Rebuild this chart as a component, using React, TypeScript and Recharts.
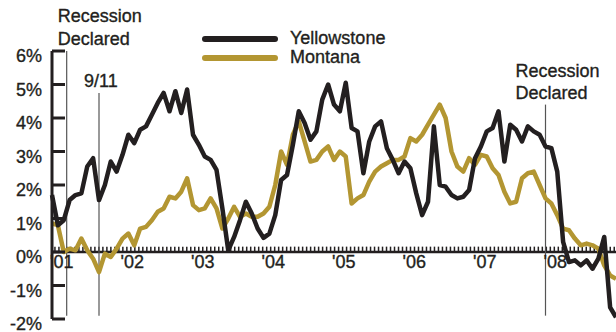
import { LineChart, Line, XAxis, YAxis, ReferenceLine, ReferenceDot, Legend } from "recharts";

const INK = "#231f20";
const GOLD = "#b39632";
const FONT = "'Liberation Sans', Arial, sans-serif";

// monthly job growth, Jan 2001 .. Jan 2009 (percent)
const yellowstone = [
  1.7, 0.8, 0.95, 1.55, 1.7, 1.75, 2.55, 2.8, 1.55, 2.0, 2.7, 2.4,
  2.9, 3.5, 3.25, 3.65, 3.75, 4.1, 4.45, 4.75, 4.2, 4.8, 4.15, 4.85,
  3.5, 3.2, 2.85, 2.75, 2.45, 1.3, 0.05, 0.45, 0.95, 1.5, 1.15, 0.7,
  0.42, 0.55, 1.1, 2.15, 2.3, 3.2, 4.2, 3.85, 3.35, 3.6, 4.55, 5.0,
  4.4, 4.2, 5.05, 3.7, 3.6, 2.35, 3.3, 3.75, 3.9, 3.1, 2.75, 2.35,
  2.7, 2.5, 1.75, 1.1, 1.5, 3.75, 2.0, 1.95, 1.7, 1.6, 1.65, 1.85,
  2.8, 3.15, 3.6, 3.7, 4.2, 2.7, 3.8, 3.65, 3.3, 3.75, 3.6, 3.5,
  3.15, 3.1, 2.4, 0.3, -0.3, -0.25, -0.4, -0.25, -0.5, -0.2, 0.45, -1.65,
  -1.95,
];

const montana = [
  0.85, 0.8, 0.0, 0.1, 0.05, 0.4, 0.05, -0.2, -0.6, -0.05, -0.15, 0.1,
  0.4, 0.55, 0.2, 0.7, 0.75, 0.95, 1.2, 1.3, 1.65, 1.6, 1.8, 2.2,
  1.4, 1.25, 1.3, 1.6, 1.3, 0.7, 1.0, 1.35, 1.05, 1.15, 1.05, 1.05,
  1.15, 1.35, 2.0, 3.0, 2.6, 3.5, 3.9, 3.3, 2.7, 2.75, 3.0, 3.15,
  2.75, 3.0, 2.85, 1.45, 1.6, 1.7, 2.1, 2.4, 2.55, 2.65, 2.75, 2.75,
  2.85, 3.4, 3.3, 3.5, 3.8, 4.1, 4.4, 4.0, 3.0, 2.55, 2.4, 2.8,
  2.6, 2.9, 2.85, 2.5, 2.3, 1.8, 1.45, 1.5, 2.2, 2.35, 2.4, 2.0,
  1.6, 1.45, 1.1, 0.7, 0.65, 0.4, 0.2, 0.25, 0.2, 0.1, -0.4, -0.7,
  -0.8,
];

const yearLabels = ["'01", "'02", "'03", "'04", "'05", "'06", "'07", "'08"];
const yTicks = [-2, -1, 0, 1, 2, 3, 4, 5, 6];
const seriesNames = ["Yellowstone", "Montana"];

const data = yellowstone.map((v, i) => ({ month: i, Yellowstone: v, Montana: montana[i] }));

// small comb marks along the zero line
const combTicks = Array.from({ length: 141 }, (_, k) => 0.5 + k * 0.68);

const textStyle = {
  fill: INK,
  fontSize: 18,
  fontFamily: FONT,
  stroke: INK,
  strokeWidth: 0.35,
};

const YTick = (props: any) => {
  const { x, y, payload } = props;
  return (
    <g>
      <line x1={x + 10} x2={x + 23} y1={y} y2={y} stroke={INK} strokeWidth={3} />
      <text x={x} y={y + 11} textAnchor="end" {...textStyle}>
        {payload.value}%
      </text>
    </g>
  );
};

const annotation = (lines: string[], dx: number, gap: number) => (props: any) => {
  const { x, y } = props.viewBox;
  return (
    <text {...textStyle}>
      {lines.map((t, i) => (
        <tspan key={t} x={x + dx} y={y - 6 - (lines.length - 1 - i) * gap}>
          {t}
        </tspan>
      ))}
    </text>
  );
};

const renderLegend = (props: any) => {
  const items = [...(props.payload || [])].sort(
    (a: any, b: any) => seriesNames.indexOf(a.value) - seriesNames.indexOf(b.value)
  );
  return (
    <div style={{ fontFamily: FONT, fontSize: 18, color: INK, WebkitTextStroke: "0.35px " + INK }}>
      {items.map((p: any) => (
        <div key={p.value} style={{ display: "flex", alignItems: "center", height: 19, lineHeight: "19px" }}>
          <svg width={88} height={10}>
            <line x1={3} x2={73} y1={5} y2={5} stroke={p.color} strokeWidth={6} strokeLinecap="round" />
          </svg>
          <span>{p.value}</span>
        </div>
      ))}
    </div>
  );
};

export default function App() {
  return (
    <div style={{ position: "absolute", left: 0, top: 0, width: 616, height: 332, background: "#fff" }}>
      <LineChart width={616} height={332} data={data} margin={{ top: 51, right: 0, bottom: 13, left: 0 }}>
        <XAxis dataKey="month" type="number" domain={[0, 96]} hide />
        <YAxis
          type="number"
          domain={[-2, 6]}
          ticks={yTicks}
          interval={0}
          width={52}
          tickSize={0}
          tickMargin={10}
          tickLine={false}
          axisLine={{ stroke: INK, strokeWidth: 3 }}
          tick={<YTick />}
        />
        <ReferenceLine y={0} stroke={INK} strokeWidth={2.5} />
        {combTicks.map((t) => (
          <ReferenceLine
            key={t}
            segment={[{ x: t, y: 0 }, { x: t, y: 0.16 }]}
            stroke={INK}
            strokeWidth={1.5}
          />
        ))}
        {yearLabels.map((lab, k) => (
          <ReferenceDot
            key={lab}
            x={k * 12}
            y={0}
            r={1}
            shape={(p: any) => (
              <text x={p.cx - 2} y={p.cy + 16} {...textStyle}>
                {lab}
              </text>
            )}
          />
        ))}
        <ReferenceLine
          segment={[{ x: 2.5, y: 6 }, { x: 2.5, y: -1.9 }]}
          stroke="#555"
          strokeWidth={1.2}
          label={{ content: annotation(["Recession", "Declared"], -9, 23) }}
        />
        <ReferenceLine
          segment={[{ x: 8, y: 4.75 }, { x: 8, y: -1.9 }]}
          stroke="#555"
          strokeWidth={1.2}
          label={{ content: annotation(["9/11"], -15, 0) }}
        />
        <ReferenceLine
          segment={[{ x: 84, y: 4.4 }, { x: 84, y: -1.9 }]}
          stroke="#555"
          strokeWidth={1.2}
          label={{ content: annotation(["Recession", "Declared"], -30, 22) }}
        />
        <Line
          dataKey="Montana"
          name="Montana"
          stroke={GOLD}
          strokeWidth={4.5}
          dot={false}
          strokeLinejoin="round"
          isAnimationActive={false}
        />
        <Line
          dataKey="Yellowstone"
          name="Yellowstone"
          stroke={INK}
          strokeWidth={4.5}
          dot={false}
          strokeLinejoin="round"
          isAnimationActive={false}
        />
        <Legend
          layout="vertical"
          align="center"
          verticalAlign="top"
          content={renderLegend}
          wrapperStyle={{ position: "absolute", left: 202, top: 29, width: 260, height: 0, overflow: "visible" }}
        />
      </LineChart>
    </div>
  );
}
